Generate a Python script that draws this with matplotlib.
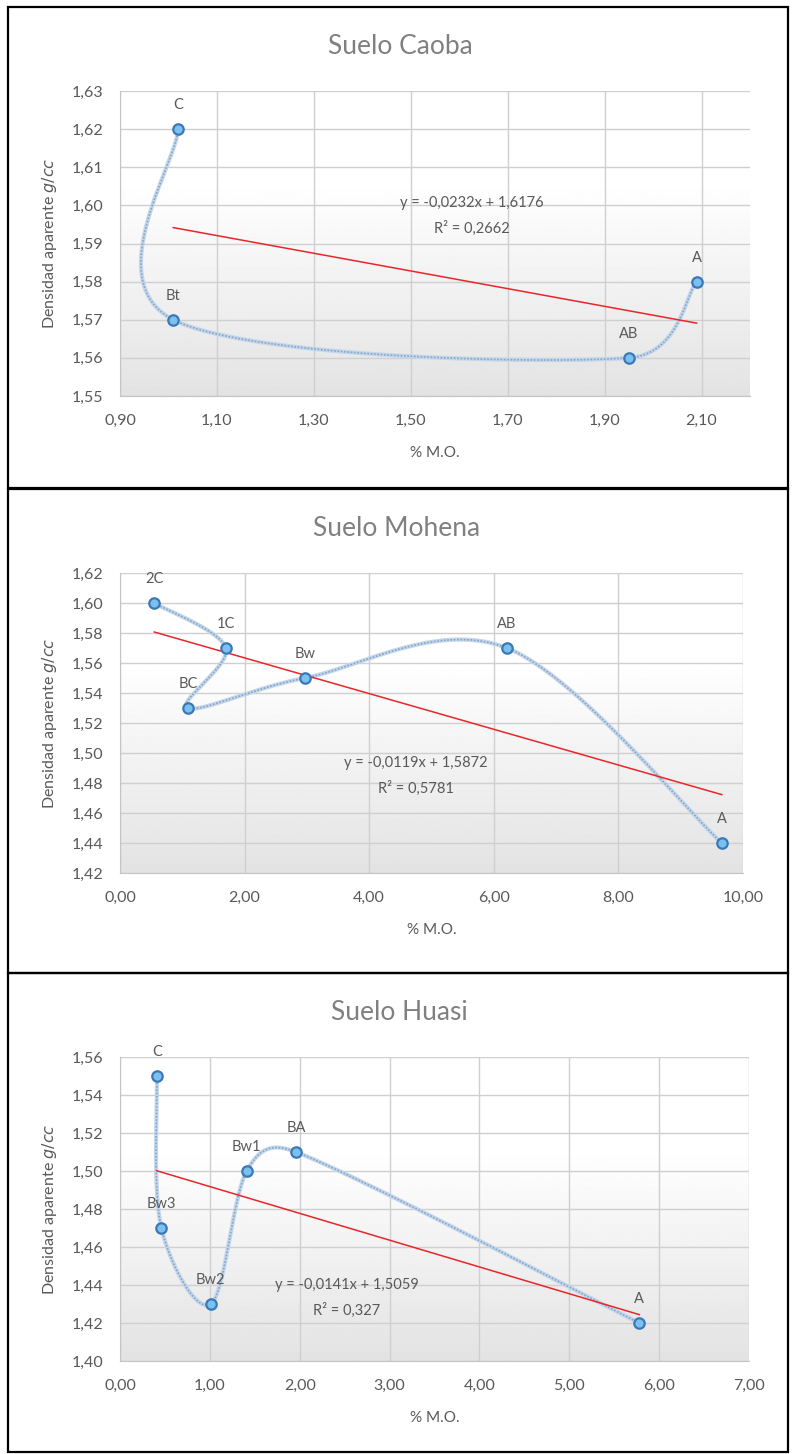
import numpy as np
import matplotlib.pyplot as plt
from matplotlib.patches import Rectangle
from matplotlib.ticker import FuncFormatter

plt.rcParams['font.family'] = ['Lato', 'DejaVu Sans']

# datos
caoba_hz = ["C", "Bt", "AB", "A"]
caoba_mo = [1.02, 1.01, 1.95, 2.09]
caoba_da = [1.62, 1.57, 1.56, 1.58]
caoba_fit = (-0.0232, 1.6176)
caoba_eq = ["y = -0,0232x + 1,6176", "R² = 0,2662"]

mohena_hz = ["2C", "1C", "BC", "Bw", "AB", "A"]
mohena_mo = [0.55, 1.70, 1.09, 2.97, 6.21, 9.66]
mohena_da = [1.60, 1.57, 1.53, 1.55, 1.57, 1.44]
mohena_fit = (-0.0119, 1.5872)
mohena_eq = ["y = -0,0119x + 1,5872", "R² = 0,5781"]

huasi_hz = ["C", "Bw3", "Bw2", "Bw1", "BA", "A"]
huasi_mo = [0.41, 0.46, 1.01, 1.41, 1.96, 5.78]
huasi_da = [1.55, 1.47, 1.43, 1.50, 1.51, 1.42]
huasi_fit = (-0.0141, 1.5059)
huasi_eq = ["y = -0,0141x + 1,5059", "R² = 0,327"]

W, H = 792, 1454
fig = plt.figure(figsize=(W / 100, H / 100), dpi=100)

GRAY = "#595959"


def fx(px):
    return px / W


def fy(py):
    return 1 - py / H


def smooth(ax, xs, ys, n=60):
    # suavizado tipo Excel: Bezier con tangentes 1/6, limitadas a media cuerda
    P = ax.transData.transform(np.column_stack([xs, ys]))
    pts = np.vstack([P[0], P, P[-1]])
    out = []
    t = np.linspace(0, 1, n)[:, None]
    for i in range(1, len(pts) - 2):
        p0, p1, p2, p3 = pts[i - 1], pts[i], pts[i + 1], pts[i + 2]
        d12 = np.hypot(*(p2 - p1))
        d02 = np.hypot(*(p2 - p0))
        d13 = np.hypot(*(p3 - p1))
        f1 = min(1 / 6, 0.5 * d12 / d02) if d02 > 0 else 0
        f2 = min(1 / 6, 0.5 * d12 / d13) if d13 > 0 else 0
        c1 = p1 + (p2 - p0) * f1
        c2 = p2 - (p3 - p1) * f2
        seg = (1 - t)**3 * p1 + 3 * (1 - t)**2 * t * c1 + 3 * (1 - t) * t**2 * c2 + t**3 * p2
        out.append(seg)
    s = ax.transData.inverted().transform(np.vstack(out))
    return s[:, 0], s[:, 1]


def comma(v, _):
    return f"{v:.2f}".replace(".", ",")


def panel(box, ax_px, title, hz, mo, da, fit, eq, eq_px, xlim, xticks, ylim, ystep):
    x0, y0, x1, y1 = box
    fig.patches.append(Rectangle((fx(x0), fy(y1)), fx(x1 - x0), (y1 - y0) / H,
                                 transform=fig.transFigure, fill=False,
                                 edgecolor="black", lw=1.6))
    l, t, r, b = ax_px
    ax = fig.add_axes([fx(l), fy(b), fx(r - l), (b - t) / H])

    # fondo degradado
    g = np.linspace(0, 1, 256)
    g = 1 - 0.11 * np.clip((g - 0.3) / 0.7, 0, 1)
    img = np.repeat(g[:, None], 2, axis=1)
    ax.imshow(img, cmap="gray", vmin=0, vmax=1, aspect="auto",
              extent=[0, 1, 0, 1], transform=ax.transAxes, zorder=0)

    ax.set_xlim(*xlim)
    ax.set_ylim(*ylim)
    ax.set_xticks(xticks)
    ax.set_yticks(np.arange(ylim[0], ylim[1] + 1e-9, ystep))
    ax.xaxis.set_major_formatter(FuncFormatter(comma))
    ax.yaxis.set_major_formatter(FuncFormatter(comma))
    ax.grid(True, color="#cfcfcf", lw=1)
    ax.set_axisbelow(True)
    ax.tick_params(length=0, labelsize=11.5, labelcolor=GRAY)
    ax.tick_params(axis="x", pad=13)
    ax.tick_params(axis="y", pad=12)
    for s in ("top", "right"):
        ax.spines[s].set_visible(False)
    for s in ("left", "bottom"):
        ax.spines[s].set_color("#c4c4c4")

    sx, sy = smooth(ax, mo, da)
    ax.plot(sx, sy, color="#c3d6ea", lw=3.0, solid_capstyle="round", zorder=3)
    ax.plot(sx, sy, color="#86a5c6", lw=1.2, ls=(0, (1, 1)), zorder=3)

    xr = np.array([min(mo), max(mo)])
    ax.plot(xr, fit[0] * xr + fit[1], color="#e8262a", lw=1.1, zorder=4)

    ax.plot(mo, da, "o", ms=7.5, mfc="#7cc0f0", mec="#3b79b6", mew=1.6, zorder=5)
    for h, xv, yv in zip(hz, mo, da):
        ax.annotate(h, (xv, yv), xytext=(0, 24), textcoords="offset pixels",
                    ha="center", va="center", fontsize=10.5, color=GRAY, zorder=6)

    fig.text(fx((l + r) / 2 - 35), fy(y0 + 40), title, ha="center", va="center",
             fontsize=19, color="#808080")
    fig.text(fx((l + r) / 2), fy(b + 57), "% M.O.", ha="center", va="center",
             fontsize=11, color=GRAY)
    fig.text(fx(50), fy((t + b) / 2), "Densidad aparente $g/cc$", ha="center",
             va="center", rotation=90, fontsize=11.5, color=GRAY)
    ex, ey = eq_px
    fig.text(fx(ex), fy(ey), eq[0], ha="center", va="center", fontsize=10.5, color=GRAY)
    fig.text(fx(ex), fy(ey + 25), eq[1], ha="center", va="center", fontsize=10.5, color=GRAY)
    return ax


panel((8, 7, 788, 488), (120, 91, 750, 396), "Suelo Caoba",
      caoba_hz, caoba_mo, caoba_da, caoba_fit, caoba_eq, (472, 203),
      (0.90, 2.20), np.arange(0.90, 2.11, 0.20), (1.55, 1.63), 0.01)
panel((8, 489, 788, 973), (120, 573, 743, 873), "Suelo Mohena",
      mohena_hz, mohena_mo, mohena_da, mohena_fit, mohena_eq, (416, 763),
      (0.0, 10.0), np.arange(0, 10.01, 2.0), (1.42, 1.62), 0.02)
panel((8, 973, 788, 1452), (120, 1057, 749, 1361), "Suelo Huasi",
      huasi_hz, huasi_mo, huasi_da, huasi_fit, huasi_eq, (347, 1285),
      (0.0, 7.0), np.arange(0, 7.01, 1.0), (1.40, 1.56), 0.02)

fig.savefig("out.png", dpi=100)
